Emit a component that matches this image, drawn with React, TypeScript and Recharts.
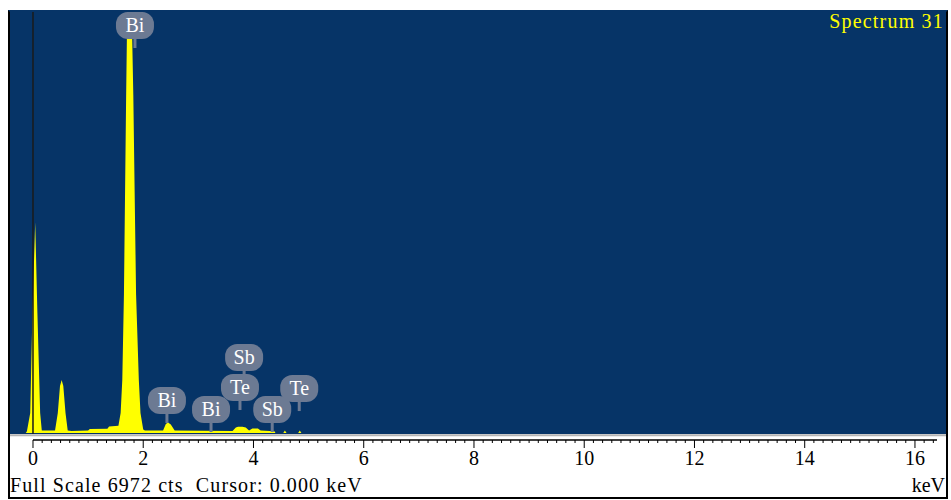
import { AreaChart, Area, XAxis, YAxis, CartesianGrid, ReferenceArea, ReferenceLine, ReferenceDot } from 'recharts';

// spectrum (keV / counts)
const energyKeV = [-0.42, -0.13, -0.11, -0.05, -0.01, 0.04, 0.08, 0.13, 0.16, 0.40, 0.45, 0.49, 0.52, 0.55, 0.59, 0.63, 0.70, 1.00, 1.03, 1.35, 1.38, 1.55, 1.59, 1.62, 1.65, 1.69, 1.71, 1.75, 1.79, 1.82, 1.87, 1.92, 1.95, 2.00, 2.03, 2.36, 2.41, 2.45, 2.50, 2.57, 3.62, 3.68, 3.72, 3.80, 3.86, 3.92, 3.98, 4.08, 4.13, 4.38, 4.40, 4.54, 4.57, 4.60, 4.81, 4.84, 4.87, 16.56];
const counts = [0, 0, 30, 330, 1990, 3490, 1990, 330, 40, 40, 330, 780, 880, 780, 330, 40, 35, 40, 66, 70, 110, 120, 330, 880, 2300, 5600, 7000, 7600, 7000, 5600, 2300, 880, 330, 60, 40, 40, 150, 175, 140, 40, 35, 90, 105, 105, 90, 40, 75, 75, 40, 30, 0, 0, 40, 0, 0, 40, 0, 0];

// element markers
const markerNames = ['Bi', 'Bi', 'Bi', 'Te', 'Sb', 'Sb', 'Te'];
const markerKeV = [1.85, 2.43, 3.23, 3.755, 3.83, 4.34, 4.83];
const markerCounts = [6376, 166, 17, 381, 878, 17, 364];

const majorTicks = [0, 2, 4, 6, 8, 10, 12, 14, 16];
const fullScale = 6972;

const data = energyKeV.map((e, i) => ({ e, c: counts[i] }));
const minorTicks = Array.from({ length: 99 }, (_, k) => k / 6);

const BLUE = '#063467';
const YELLOW = '#ffff00';
const BUBBLE = '#6c7a93';
const FONT = '"Liberation Serif", "DejaVu Serif", serif';

const EnergyTick = (props: any) => {
  const { x, y, payload } = props;
  const v = payload.value;
  const major = majorTicks.find((t) => Math.abs(t - v) < 1e-6);
  const isMajor = major !== undefined;
  return (
    <g>
      <line x1={x} x2={x} y1={y - 1} y2={y + (isMajor ? 7 : 2)} stroke="#000" strokeWidth={1} />
      {isMajor && (
        <text x={x} y={y + 24} textAnchor="middle" fontFamily={FONT} fontSize={20} fill="#000">
          {major}
        </text>
      )}
    </g>
  );
};

const Bubble = ({ cx, cy, name }: any) => (
  <g>
    <rect x={cx - 1.5} y={cy - 11} width={3} height={11} fill={BUBBLE} />
    <rect x={cx - 19} y={cy - 36} width={38} height={27} rx={12} fill={BUBBLE} />
    <text x={cx} y={cy - 16} textAnchor="middle" fontFamily={FONT} fontSize={20} fill="#fff">
      {name}
    </text>
  </g>
);

export default function App() {
  return (
    <div
      style={{
        position: 'absolute', left: 8, top: 10, width: 936, height: 485,
        border: '2px solid #000', borderTop: `2px solid ${BLUE}`, background: '#fff',
      }}
    >
      <AreaChart width={936} height={485} data={data} margin={{ top: 0, right: 0, bottom: 0, left: 0 }}>
        <CartesianGrid fill={BLUE} stroke="none" horizontal={false} vertical={false} />
        <XAxis
          dataKey="e" type="number" domain={[-0.417, 16.563]} allowDataOverflow
          ticks={minorTicks} interval={0} height={56}
          axisLine={false} tickLine={false} tickSize={0} tickMargin={0}
          tick={<EnergyTick />}
        />
        <YAxis hide domain={[-132, fullScale]} allowDataOverflow />
        <ReferenceArea x1={-0.417} x2={16.563} y1={-132} y2={-17} fill="#fff" fillOpacity={1} stroke="none" />
        <ReferenceLine y={-38} stroke="#b4b4b4" strokeWidth={2} />
        <ReferenceLine segment={[{ x: 0, y: -116 }, { x: 16.4, y: -116 }]} stroke="#000" strokeWidth={1.5} />
        <Area type="linear" dataKey="c" fill={YELLOW} fillOpacity={1} stroke="none" isAnimationActive={false} />
        <ReferenceLine segment={[{ x: 0, y: -17 }, { x: 0, y: fullScale }]} stroke="#1b1b1b" strokeWidth={1.5} />
        {markerNames.map((n, i) => (
          <ReferenceDot
            key={i} x={markerKeV[i]} y={markerCounts[i]}
            shape={(p: any) => <Bubble cx={p.cx} cy={p.cy} name={n} />}
          />
        ))}
      </AreaChart>
      <div style={{ position: 'absolute', right: 2, top: -1, color: YELLOW, fontFamily: FONT, fontSize: 20, lineHeight: '20px', letterSpacing: 1.2 }}>
        Spectrum 31
      </div>
      <div style={{ position: 'absolute', left: 0, top: 463, fontFamily: FONT, fontSize: 20, lineHeight: '20px', whiteSpace: 'pre', letterSpacing: 1.1 }}>
        Full Scale 6972 cts  Cursor: 0.000 keV
      </div>
      <div style={{ position: 'absolute', right: 1, top: 463, fontFamily: FONT, fontSize: 20, lineHeight: '20px' }}>
        keV
      </div>
    </div>
  );
}
